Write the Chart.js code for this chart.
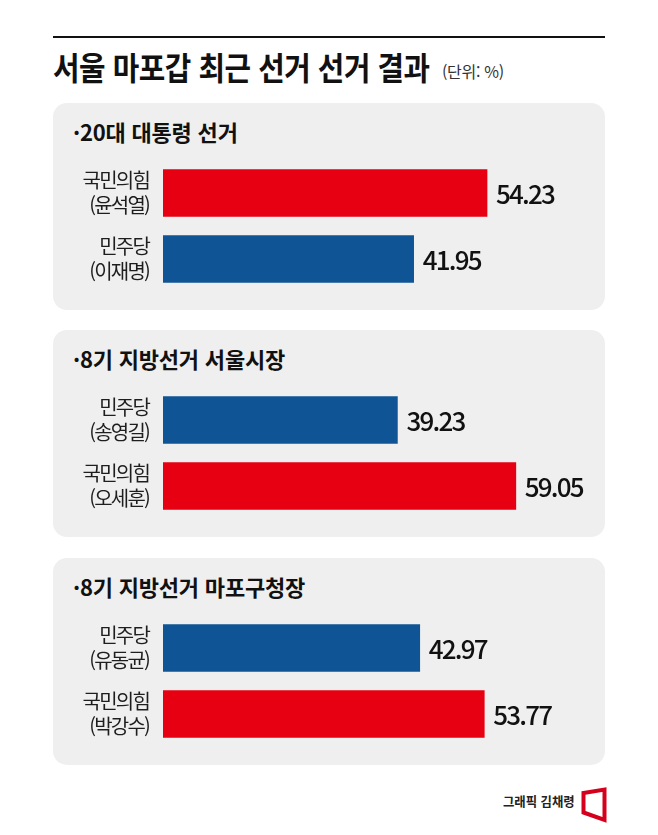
<!DOCTYPE html>
<html lang="ko">
<head>
<meta charset="utf-8">
<script src="https://cdn.jsdelivr.net/npm/chart.js@4.4.1/dist/chart.umd.min.js"></script>
<style>
  html,body{margin:0;padding:0;background:#fff;}
  body{width:658px;height:835px;position:relative;overflow:hidden;font-family:"Noto Sans CJK KR","Noto Sans",sans-serif;color:#111;}
  .abs{position:absolute;}
  #rule{left:53px;top:36px;width:552px;height:2px;background:#111;}
  #title{left:53px;top:46px;font-weight:700;font-size:32px;line-height:40px;white-space:nowrap;transform:scaleX(0.9);transform-origin:left top;letter-spacing:-0.5px;}
  #unit{left:442px;top:61px;font-size:16px;line-height:20px;color:#333;white-space:nowrap;letter-spacing:-0.3px;}
  .panel{left:53px;width:552px;height:207px;background:#efefef;border-radius:14px;}
  .ptitle{position:absolute;left:20px;top:14px;font-weight:700;font-size:22px;line-height:28px;white-space:nowrap;letter-spacing:-0.2px;}
  .chartbox{position:absolute;left:0;top:57px;width:552px;height:132px;}
  #credit{left:503px;top:792px;font-size:13px;font-weight:700;line-height:18px;color:#222;white-space:nowrap;transform:scaleX(0.95);transform-origin:left top;}
  #logo{left:578px;top:784px;}
</style>
</head>
<body>
<div id="rule" class="abs"></div>
<div id="title" class="abs">서울 마포갑 최근 선거 선거 결과</div>
<div id="unit" class="abs">(단위: %)</div>
<div id="panels"></div>
<div id="credit" class="abs">그래픽 김채령</div>
<svg id="logo" class="abs" width="32" height="42" viewBox="0 0 32 42">
  <polygon points="5.5,9 26.5,5.5 26.5,36 5.5,28.5" fill="#fff" stroke="#d5001c" stroke-width="4" stroke-linejoin="miter"/>
</svg>
<script>
// ---- data ----
const panelTitles = ['·20대 대통령 선거', '·8기 지방선거 서울시장', '·8기 지방선거 마포구청장'];
const partyLabels = [['국민의힘', '민주당'], ['민주당', '국민의힘'], ['민주당', '국민의힘']];
const candidateNames = [['(윤석열)', '(이재명)'], ['(송영길)', '(오세훈)'], ['(유동균)', '(박강수)']];
const voteShares = [[54.23, 41.95], [39.23, 59.05], [42.97, 53.77]];
const partyColors = { '국민의힘': '#e60012', '민주당': '#0f5495' };

// ---- layout ----
const panelTops = [103, 330, 558];
const FONT = '"Noto Sans CJK KR", "Noto Sans", sans-serif';

const valueLabelPlugin = {
  id: 'valueLabels',
  beforeDraw(chart) { chart.ctx.letterSpacing = '-1.8px'; },
  afterDatasetsDraw(chart) {
    const ctx = chart.ctx;
    const meta = chart.getDatasetMeta(0);
    const vals = chart.data.datasets[0].data;
    ctx.save();
    ctx.font = '500 26px ' + FONT;
    ctx.letterSpacing = '-1.8px';
    ctx.fillStyle = '#111';
    ctx.textAlign = 'left';
    ctx.textBaseline = 'middle';
    meta.data.forEach((bar, i) => {
      ctx.fillText(vals[i].toFixed(2), bar.x + 9, bar.y + 1);
    });
    ctx.restore();
  }
};

const container = document.getElementById('panels');
panelTitles.forEach((t, i) => {
  const panel = document.createElement('div');
  panel.className = 'panel abs';
  panel.style.top = panelTops[i] + 'px';
  const pt = document.createElement('div');
  pt.className = 'ptitle';
  pt.textContent = t;
  panel.appendChild(pt);
  const box = document.createElement('div');
  box.className = 'chartbox';
  const cv = document.createElement('canvas');
  box.appendChild(cv);
  panel.appendChild(box);
  container.appendChild(panel);

  const labels = partyLabels[i].map((p, j) => [p, candidateNames[i][j]]);
  new Chart(cv, {
    type: 'bar',
    data: {
      labels: labels,
      datasets: [{
        data: voteShares[i],
        backgroundColor: partyLabels[i].map(p => partyColors[p]),
        barThickness: 47,
        borderWidth: 0
      }]
    },
    options: {
      indexAxis: 'y',
      responsive: true,
      maintainAspectRatio: false,
      animation: false,
      devicePixelRatio: 1,
      layout: { padding: { left: 0, right: 23.75, top: 0, bottom: 0 } },
      plugins: { legend: { display: false }, tooltip: { enabled: false } },
      scales: {
        x: { min: 0, max: 70, display: false },
        y: {
          grid: { display: false, drawTicks: false },
          border: { display: false },
          ticks: {
            color: '#1e1e1e',
            padding: 14,
            font: { family: FONT, size: 20, weight: '400', lineHeight: 1.25 }
          },
          afterFit(scale) {
            scale.width = 110;
            scale.paddingTop = 0;
            scale.paddingBottom = 0;
          }
        }
      }
    },
    plugins: [valueLabelPlugin]
  });
});
</script>
</body>
</html>
